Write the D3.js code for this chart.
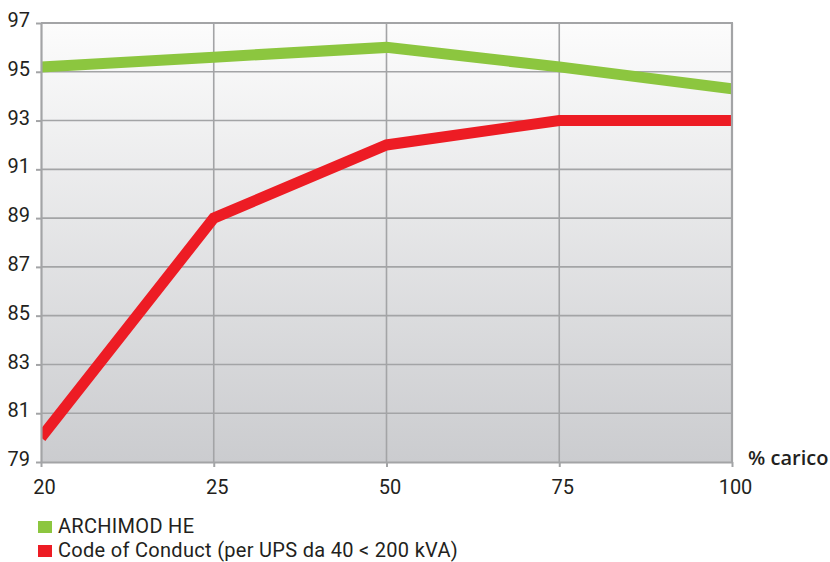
<!DOCTYPE html>
<html>
<head>
<meta charset="utf-8">
<script src="https://cdn.jsdelivr.net/npm/d3@7"></script>
<style>
  html, body { margin: 0; padding: 0; background: #ffffff; }
  svg { display: block; }
</style>
</head>
<body>
<svg id="chart" width="830" height="562"></svg>
<script>
const categories = ["20", "25", "50", "75", "100"];
const archimodHE = [95.2, 95.6, 96.0, 95.2, 94.3];
const codeOfConduct = [80.0, 89.0, 92.0, 93.0, 93.0];
const yTicks = [79, 81, 83, 85, 87, 89, 91, 93, 95, 97];
const seriesNames = ["ARCHIMOD HE", "Code of Conduct (per UPS da 40 < 200 kVA)"];
const seriesColors = ["#8cc63f", "#ed1c24"];
const xAxisTitle = "% carico";

const svg = d3.select("#chart");
const margin = { left: 41, right: 98, top: 23, bottom: 100 };
const W = 830, H = 562;
const x0 = margin.left, x1 = W - margin.right, y0 = H - margin.bottom, y1 = margin.top;

const x = d3.scalePoint().domain(categories).range([x0, x1]);
const y = d3.scaleLinear().domain([79, 97]).range([y0, y1]);

const font = "Roboto, 'DejaVu Sans', sans-serif";
const gray = "#a3a4a6";

// gradient background
const defs = svg.append("defs");
const grad = defs.append("linearGradient").attr("id", "bg").attr("x1", 0).attr("y1", 0).attr("x2", 0).attr("y2", 1);
grad.append("stop").attr("offset", "0%").attr("stop-color", "#fcfcfc");
grad.append("stop").attr("offset", "100%").attr("stop-color", "#cbcccf");
defs.append("clipPath").attr("id", "clip").append("rect")
  .attr("x", x0).attr("y", y1).attr("width", x1 - x0).attr("height", y0 - y1);

svg.append("rect").attr("x", x0).attr("y", y1).attr("width", x1 - x0).attr("height", y0 - y1)
  .attr("fill", "url(#bg)");

// horizontal gridlines
svg.append("g").selectAll("line").data(yTicks.filter(d => d !== 79 && d !== 97)).join("line")
  .attr("x1", x0).attr("x2", x1).attr("y1", d => y(d)).attr("y2", d => y(d))
  .attr("stroke", gray).attr("stroke-width", 1.6);
// vertical gridlines
svg.append("g").selectAll("line").data(categories.slice(1, -1)).join("line")
  .attr("x1", d => x(d)).attr("x2", d => x(d)).attr("y1", y1).attr("y2", y0)
  .attr("stroke", gray).attr("stroke-width", 1.6);

// lines
const line = d3.line().x((d, i) => x(categories[i])).y(d => y(d));
const lg = svg.append("g").attr("clip-path", "url(#clip)");
[archimodHE, codeOfConduct].forEach((s, i) => {
  lg.append("path").datum(s).attr("d", line).attr("fill", "none")
    .attr("stroke", seriesColors[i]).attr("stroke-width", 11)
    .attr("stroke-linejoin", "miter").attr("stroke-linecap", "butt");
});

// frame: top and right
svg.append("line").attr("x1", x0).attr("x2", x1 + 1).attr("y1", y1).attr("y2", y1)
  .attr("stroke", gray).attr("stroke-width", 2.2);
svg.append("line").attr("x1", x1).attr("x2", x1).attr("y1", y1).attr("y2", y0)
  .attr("stroke", gray).attr("stroke-width", 2.2);

// y axis
const yAxis = svg.append("g").attr("transform", `translate(${x0},0)`)
  .call(d3.axisLeft(y).tickValues(yTicks).tickSize(5).tickPadding(7).tickSizeOuter(0));
yAxis.select(".domain").attr("stroke", gray).attr("stroke-width", 2.2);
yAxis.selectAll(".tick line").attr("stroke", gray).attr("stroke-width", 2);
yAxis.selectAll(".tick text").attr("font-family", font).attr("font-size", 20)
  .attr("fill", "#231f20").attr("dy", "0.18em").attr("x", -11);

// x axis
const xAxis = svg.append("g").attr("transform", `translate(0,${y0})`)
  .call(d3.axisBottom(x).tickSize(5).tickPadding(8).tickSizeOuter(0));
xAxis.select(".domain").attr("stroke", gray).attr("stroke-width", 2.2);
xAxis.selectAll(".tick line").attr("stroke", gray).attr("stroke-width", 2);
xAxis.selectAll(".tick text").attr("font-family", font).attr("font-size", 20)
  .attr("fill", "#231f20").attr("dx", 3).attr("dy", "0.95em");

svg.append("text").attr("x", x1 + 16).attr("y", y0 + 3).attr("font-family", "'Open Sans', sans-serif")
  .attr("font-size", 20).attr("font-weight", 600).attr("fill", "#231f20").text(xAxisTitle);

// legend
const leg = svg.append("g");
seriesNames.forEach((n, i) => {
  const yy = 533 + i * 24;
  leg.append("rect").attr("x", 38).attr("y", yy - 12).attr("width", 14).attr("height", 12)
    .attr("fill", seriesColors[i]);
  leg.append("text").attr("x", 58).attr("y", yy).attr("font-family", font).attr("font-size", 20)
    .attr("letter-spacing", 0.3).attr("fill", "#231f20").text(n);
});
</script>
</body>
</html>
